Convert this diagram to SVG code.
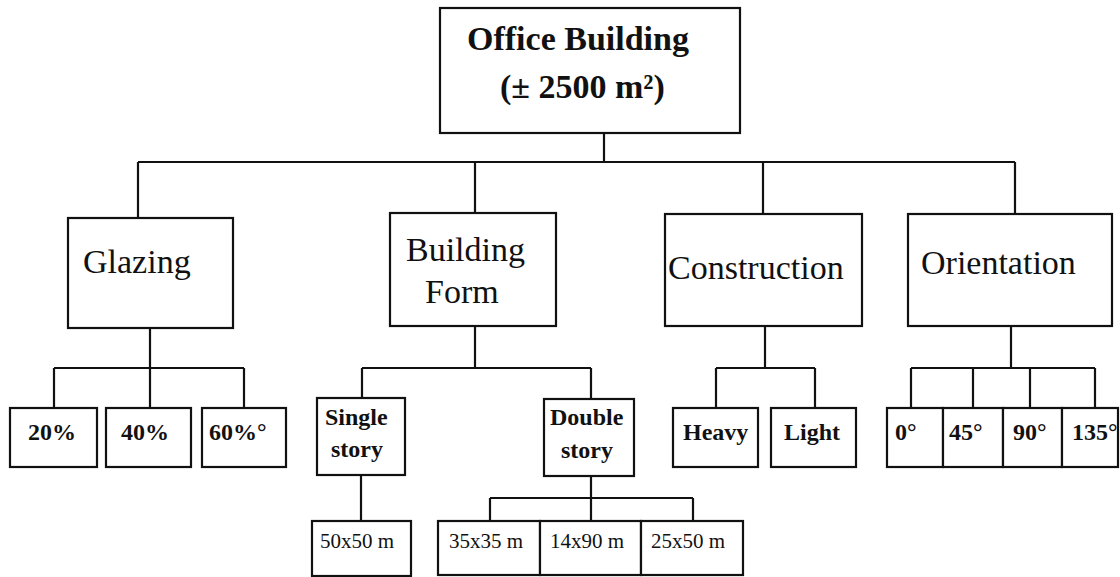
<svg xmlns="http://www.w3.org/2000/svg" width="1120" height="577" viewBox="0 0 1120 577">
<style>
rect{fill:#fff;stroke:#111;stroke-width:2.2}
.c path{fill:none;stroke:#111;stroke-width:2.2}
text{font-family:"Liberation Serif","Times New Roman",serif;fill:#111}
.t{font-size:34px;font-weight:bold}
.m{font-size:34px}
.s{font-size:24px;font-weight:bold}
.d{font-size:21px}
</style>
<rect x="0" y="0" width="1120" height="577" style="stroke:none"/>
<g class="c">
<path d="M604 133V162M138 162H1015M138 162V218M475 162V213M763 162V214M1015 162V214"/>
<path d="M150 328V368M54 368H244M54 368V408M150 368V408M244 368V408"/>
<path d="M475 326V368M362 368H591M362 368V398M591 368V399"/>
<path d="M361 475V521"/>
<path d="M591 476V498M490 498H693M490 498V521M591 498V521M693 498V521"/>
<path d="M765 326V368M716 368H815M716 368V408M815 368V408"/>
<path d="M1011 326V368M911 368H1095M911 368V408M973 368V408M1030 368V408M1095 368V408"/>
</g>
<g id="office"><rect x="440" y="8" width="300" height="125"/><text class="t" x="467" y="50">Office Building</text><text class="t" x="500" y="98">(± 2500 m²)</text></g>
<g id="glazing"><rect x="68" y="218" width="165" height="110"/><text class="m" x="83" y="273">Glazing</text></g>
<g id="form"><rect x="390" y="213" width="166" height="113"/><text class="m" x="406" y="261">Building</text><text class="m" x="425" y="303">Form</text></g>
<g id="construction"><rect x="665" y="214" width="197" height="112"/><text class="m" x="668" y="279">Construction</text></g>
<g id="orientation"><rect x="908" y="214" width="204" height="112"/><text class="m" x="921" y="274">Orientation</text></g>
<g id="g20"><rect x="10" y="408" width="87" height="59"/><text class="s" x="28" y="440">20%</text></g>
<g id="g40"><rect x="106" y="408" width="85" height="59"/><text class="s" x="121" y="440">40%</text></g>
<g id="g60"><rect x="202" y="408" width="84" height="59"/><text class="s" x="209" y="440">60%°</text></g>
<g id="single"><rect x="317" y="398" width="88" height="77"/><text class="s" x="325" y="425">Single</text><text class="s" x="331" y="457">story</text></g>
<g id="double"><rect x="544" y="399" width="90" height="77"/><text class="s" x="550" y="425">Double</text><text class="s" x="561" y="458">story</text></g>
<g id="d50"><rect x="312" y="521" width="99" height="55"/><text class="d" x="320" y="548">50x50 m</text></g>
<g id="d35"><rect x="438" y="521" width="102" height="54"/><text class="d" x="449" y="548">35x35 m</text></g>
<g id="d14"><rect x="540" y="521" width="101" height="54"/><text class="d" x="550" y="548">14x90 m</text></g>
<g id="d25"><rect x="641" y="521" width="102" height="54"/><text class="d" x="651" y="548">25x50 m</text></g>
<g id="heavy"><rect x="673" y="408" width="85" height="59"/><text class="s" x="683" y="440">Heavy</text></g>
<g id="light"><rect x="771" y="408" width="85" height="59"/><text class="s" x="784" y="440">Light</text></g>
<g id="o0"><rect x="887" y="408" width="56" height="59"/><text class="s" x="895" y="440">0°</text></g>
<g id="o45"><rect x="943" y="408" width="60" height="59"/><text class="s" x="949" y="440">45°</text></g>
<g id="o90"><rect x="1003" y="408" width="59" height="59"/><text class="s" x="1013" y="440">90°</text></g>
<g id="o135"><rect x="1062" y="408" width="56" height="59"/><text class="s" x="1072" y="440">135°</text></g>
</svg>
